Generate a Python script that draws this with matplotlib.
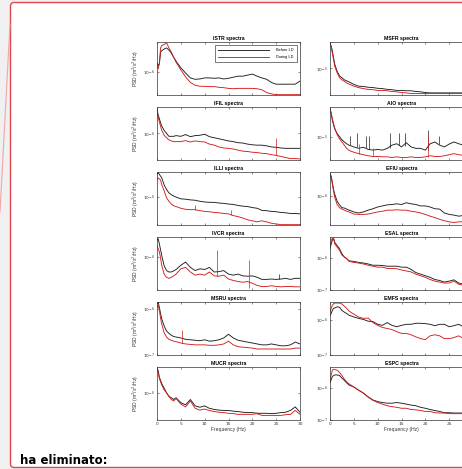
import numpy as np
import matplotlib.pyplot as plt
from matplotlib.patches import FancyBboxPatch
from matplotlib.lines import Line2D
from matplotlib.ticker import NullLocator, FixedLocator

# PSD values are log10(m^2/s^2/Hz) on a shared frequency grid
freq = [0, 0.25, 0.5, 0.75, 1, 1.5, 2, 2.5, 3, 3.5, 4,
        5, 6, 7, 8, 9, 10, 11, 12, 13, 14, 15, 16, 17, 18, 19, 20,
        21, 22, 23, 24, 25, 26, 27, 28, 29, 30]

istr_before = [-5.72, -5.81, -5.75, -5.42, -5.38, -5.33, -5.30, -5.36, -5.45, -5.57, -5.68,
               -5.87, -6.02, -6.16, -6.20, -6.19, -6.16, -6.16, -6.17, -6.16, -6.19, -6.17, -6.14,
               -6.11, -6.11, -6.08, -6.05, -6.11, -6.16, -6.20, -6.29, -6.34, -6.34, -6.34, -6.34, -6.34, -6.25]
istr_during = [-5.83, -5.90, -5.75, -5.30, -5.23, -5.20, -5.15, -5.30, -5.42, -5.57, -5.71,
               -5.93, -6.13, -6.29, -6.37, -6.40, -6.40, -6.41, -6.41, -6.43, -6.44, -6.46, -6.47,
               -6.46, -6.46, -6.46, -6.46, -6.47, -6.50, -6.58, -6.62, -6.64, -6.64, -6.64, -6.64, -6.64, -6.64]

ifil_before = [-5.30, -5.48, -5.58, -5.70, -5.79, -5.91, -6.00, -6.08, -6.08, -6.08, -6.06,
               -6.08, -6.03, -6.09, -6.06, -6.05, -6.02, -6.09, -6.12, -6.15, -6.18, -6.21, -6.23,
               -6.26, -6.27, -6.30, -6.32, -6.33, -6.33, -6.35, -6.38, -6.39, -6.41, -6.42, -6.42, -6.42, -6.42]
ifil_during = [-5.40, -5.55, -5.67, -5.79, -5.91, -6.05, -6.12, -6.18, -6.21, -6.23, -6.23,
               -6.23, -6.20, -6.24, -6.21, -6.23, -6.24, -6.30, -6.33, -6.38, -6.41, -6.42, -6.44,
               -6.47, -6.50, -6.51, -6.53, -6.54, -6.56, -6.57, -6.60, -6.62, -6.65, -6.68, -6.71, -6.71, -6.72]

illi_before = [-5.35, -5.30, -5.35, -5.40, -5.45, -5.65, -5.78, -5.88, -5.93, -5.97, -6.00,
               -6.05, -6.06, -6.08, -6.09, -6.12, -6.14, -6.15, -6.15, -6.17, -6.18, -6.20, -6.21,
               -6.24, -6.26, -6.27, -6.30, -6.32, -6.38, -6.39, -6.41, -6.42, -6.44, -6.45, -6.47, -6.47, -6.48]
illi_during = [-5.50, -5.45, -5.48, -5.51, -5.65, -5.82, -6.02, -6.12, -6.20, -6.25, -6.27,
               -6.32, -6.35, -6.36, -6.36, -6.39, -6.41, -6.42, -6.44, -6.45, -6.47, -6.48, -6.53,
               -6.56, -6.60, -6.65, -6.68, -6.71, -6.68, -6.71, -6.75, -6.77, -6.79, -6.79, -6.79, -6.79, -6.79]

ivcr_before = [-5.52, -5.48, -5.63, -5.79, -5.96, -6.24, -6.38, -6.42, -6.42, -6.39, -6.35,
               -6.23, -6.14, -6.29, -6.38, -6.33, -6.35, -6.29, -6.42, -6.41, -6.38, -6.48, -6.51,
               -6.48, -6.53, -6.54, -6.53, -6.57, -6.63, -6.63, -6.62, -6.63, -6.62, -6.60, -6.63, -6.60, -6.60]
ivcr_during = [-5.67, -5.76, -5.85, -6.03, -6.24, -6.48, -6.57, -6.60, -6.57, -6.53, -6.48,
               -6.33, -6.29, -6.42, -6.51, -6.48, -6.51, -6.42, -6.53, -6.54, -6.51, -6.62, -6.66,
               -6.69, -6.71, -6.69, -6.74, -6.80, -6.83, -6.83, -6.81, -6.83, -6.84, -6.83, -6.83, -6.84, -6.84]

msru_before = [-5.88, -5.85, -5.97, -6.10, -6.22, -6.37, -6.48, -6.53, -6.57, -6.60, -6.61,
               -6.63, -6.66, -6.67, -6.68, -6.69, -6.67, -6.70, -6.69, -6.67, -6.63, -6.55, -6.63,
               -6.68, -6.70, -6.72, -6.74, -6.76, -6.78, -6.78, -6.76, -6.78, -6.80, -6.80, -6.78, -6.72, -6.76]
msru_during = [-5.97, -5.92, -6.03, -6.20, -6.33, -6.52, -6.61, -6.66, -6.68, -6.70, -6.71,
               -6.74, -6.76, -6.77, -6.78, -6.78, -6.78, -6.79, -6.79, -6.78, -6.76, -6.70, -6.78,
               -6.82, -6.83, -6.84, -6.85, -6.87, -6.87, -6.87, -6.87, -6.87, -6.87, -6.87, -6.87, -6.85, -6.85]

mucr_before = [-5.29, -5.38, -5.56, -5.65, -5.74, -5.87, -6.00, -6.10, -6.14, -6.19, -6.14,
               -6.28, -6.34, -6.19, -6.37, -6.41, -6.37, -6.44, -6.47, -6.49, -6.50, -6.50, -6.52,
               -6.53, -6.55, -6.56, -6.56, -6.58, -6.58, -6.58, -6.59, -6.58, -6.56, -6.55, -6.50, -6.40, -6.55]
mucr_during = [-5.33, -5.42, -5.60, -5.69, -5.78, -5.92, -6.00, -6.10, -6.19, -6.23, -6.16,
               -6.32, -6.40, -6.23, -6.44, -6.49, -6.46, -6.50, -6.53, -6.55, -6.56, -6.58, -6.59,
               -6.61, -6.61, -6.61, -6.61, -6.59, -6.64, -6.64, -6.64, -6.64, -6.64, -6.62, -6.61, -6.50, -6.61]

msfr_before = [-4.28, -4.37, -4.50, -4.70, -4.88, -5.08, -5.21, -5.26, -5.32, -5.35, -5.38,
               -5.45, -5.50, -5.51, -5.53, -5.54, -5.56, -5.57, -5.59, -5.60, -5.62, -5.62, -5.63,
               -5.63, -5.65, -5.66, -5.68, -5.69, -5.69, -5.69, -5.69, -5.69, -5.69, -5.69, -5.69, -5.69, -5.69]
msfr_during = [-4.28, -4.40, -4.57, -4.75, -4.94, -5.12, -5.26, -5.32, -5.36, -5.41, -5.44,
               -5.50, -5.54, -5.57, -5.59, -5.60, -5.62, -5.62, -5.63, -5.65, -5.66, -5.68, -5.69,
               -5.71, -5.71, -5.71, -5.71, -5.71, -5.71, -5.71, -5.71, -5.71, -5.71, -5.71, -5.71, -5.71, -5.71]

aio_before = [-4.21, -4.34, -4.54, -4.67, -4.78, -4.91, -5.00, -5.09, -5.15, -5.20, -5.24,
              -5.29, -5.33, -5.30, -5.36, -5.38, -5.36, -5.38, -5.33, -5.24, -5.20, -5.29, -5.17,
              -5.29, -5.33, -5.33, -5.38, -5.20, -5.15, -5.24, -5.29, -5.21, -5.15, -5.20, -5.24, -5.29, -5.29]
aio_during = [-4.21, -4.34, -4.49, -4.63, -4.76, -4.94, -5.06, -5.15, -5.24, -5.33, -5.39,
              -5.44, -5.48, -5.51, -5.54, -5.56, -5.56, -5.57, -5.57, -5.59, -5.57, -5.59, -5.59,
              -5.57, -5.59, -5.59, -5.57, -5.54, -5.56, -5.56, -5.54, -5.51, -5.48, -5.51, -5.53, -5.54, -5.54]

efiu_before = [-5.38, -5.44, -5.62, -5.82, -5.95, -6.15, -6.25, -6.33, -6.34, -6.37, -6.40,
               -6.45, -6.48, -6.45, -6.40, -6.36, -6.31, -6.28, -6.25, -6.24, -6.22, -6.24, -6.19,
               -6.22, -6.24, -6.28, -6.28, -6.31, -6.36, -6.37, -6.48, -6.52, -6.54, -6.57, -6.55, -6.57, -6.57]
efiu_during = [-5.49, -5.44, -5.67, -5.86, -6.04, -6.24, -6.33, -6.37, -6.40, -6.43, -6.45,
               -6.51, -6.52, -6.52, -6.51, -6.48, -6.45, -6.43, -6.40, -6.40, -6.39, -6.40, -6.40,
               -6.43, -6.45, -6.48, -6.52, -6.57, -6.61, -6.66, -6.70, -6.73, -6.75, -6.73, -6.73, -6.73, -6.73]

esal_before = [-5.70, -5.55, -5.43, -5.38, -5.50, -5.60, -5.70, -5.86, -5.96, -6.01, -6.08,
               -6.10, -6.13, -6.15, -6.18, -6.22, -6.22, -6.23, -6.25, -6.25, -6.25, -6.28, -6.28,
               -6.35, -6.45, -6.50, -6.55, -6.60, -6.67, -6.70, -6.75, -6.72, -6.68, -6.78, -6.82, -6.82, -6.83]
esal_during = [-5.60, -5.43, -5.38, -5.36, -5.55, -5.65, -5.75, -5.90, -5.96, -6.01, -6.10,
               -6.13, -6.15, -6.18, -6.22, -6.25, -6.28, -6.28, -6.32, -6.32, -6.33, -6.37, -6.40,
               -6.43, -6.50, -6.55, -6.60, -6.67, -6.72, -6.75, -6.78, -6.78, -6.72, -6.82, -6.85, -6.87, -6.87]

emfs_before = [-5.86, -5.81, -5.72, -5.66, -5.65, -5.62, -5.63, -5.72, -5.77, -5.81, -5.86,
               -5.91, -5.95, -5.98, -6.03, -6.04, -6.12, -6.15, -6.07, -6.15, -6.19, -6.15, -6.12,
               -6.12, -6.09, -6.09, -6.10, -6.12, -6.16, -6.12, -6.12, -6.19, -6.16, -6.12, -6.19, -6.19, -6.24]
emfs_during = [-5.77, -5.66, -5.57, -5.53, -5.51, -5.51, -5.51, -5.54, -5.60, -5.66, -5.74,
               -5.83, -5.91, -5.95, -5.94, -6.07, -6.15, -6.21, -6.24, -6.27, -6.33, -6.38, -6.38,
               -6.42, -6.48, -6.53, -6.56, -6.45, -6.42, -6.45, -6.53, -6.53, -6.50, -6.45, -6.53, -6.57, -6.62]

espc_before = [-5.83, -5.73, -5.63, -5.60, -5.58, -5.58, -5.60, -5.68, -5.75, -5.83, -5.90,
               -5.96, -6.06, -6.15, -6.27, -6.37, -6.42, -6.45, -6.47, -6.47, -6.45, -6.47, -6.50,
               -6.53, -6.55, -6.60, -6.63, -6.67, -6.70, -6.73, -6.77, -6.77, -6.78, -6.78, -6.78, -6.78, -6.78]
espc_during = [-5.73, -5.58, -5.43, -5.40, -5.41, -5.43, -5.50, -5.60, -5.71, -5.80, -5.86,
               -5.96, -6.06, -6.15, -6.28, -6.38, -6.45, -6.50, -6.55, -6.58, -6.60, -6.63, -6.63,
               -6.67, -6.68, -6.70, -6.73, -6.73, -6.77, -6.78, -6.78, -6.80, -6.80, -6.80, -6.80, -6.80, -6.80]

# narrow peaks: (station, series, freq, low, high)
spikes = [
    ('IFIL', 'during', 25.0, -6.62, -6.14),
    ('ILLI', 'during', 8.0, -6.36, -6.22),
    ('ILLI', 'during', 15.5, -6.50, -6.37),
    ('IVCR', 'during', 12.6, -6.53, -5.81),
    ('IVCR', 'during', 19.2, -6.86, -6.09),
    ('IVCR', 'before', 25.5, -6.63, -6.48),
    ('MSRU', 'during', 5.2, -6.74, -6.45),
    ('MUCR', 'during', 21.0, -6.61, -6.55),
    ('AIO', 'before', 4.2, -5.24, -4.99),
    ('AIO', 'before', 5.7, -5.29, -4.91),
    ('AIO', 'before', 7.5, -5.33, -4.99),
    ('AIO', 'before', 8.2, -5.36, -4.99),
    ('AIO', 'before', 12.5, -5.33, -4.91),
    ('AIO', 'before', 14.5, -5.24, -4.91),
    ('AIO', 'before', 15.7, -5.25, -4.91),
    ('AIO', 'before', 20.5, -5.38, -4.81),
    ('AIO', 'before', 22.9, -5.20, -4.99),
    ('AIO', 'during', 6.0, -5.48, -5.21),
    ('AIO', 'during', 9.0, -5.56, -5.33),
    ('AIO', 'during', 20.5, -5.57, -4.99),
]

left_col = ['ISTR', 'IFIL', 'ILLI', 'IVCR', 'MSRU', 'MUCR']
right_col = ['MSFR', 'AIO', 'EFIU', 'ESAL', 'EMFS', 'ESPC']
xticks = [0, 5, 10, 15, 20, 25, 30]

series = {
    'ISTR': (istr_before, istr_during), 'IFIL': (ifil_before, ifil_during),
    'ILLI': (illi_before, illi_during), 'IVCR': (ivcr_before, ivcr_during),
    'MSRU': (msru_before, msru_during), 'MUCR': (mucr_before, mucr_during),
    'MSFR': (msfr_before, msfr_during), 'AIO': (aio_before, aio_during),
    'EFIU': (efiu_before, efiu_during), 'ESAL': (esal_before, esal_during),
    'EMFS': (emfs_before, emfs_during), 'ESPC': (espc_before, espc_during),
}

# y range of each panel in log10 units
ylims = {
    'ISTR': (-6.65, -5.13), 'IFIL': (-6.75, -5.25), 'ILLI': (-6.8, -5.28),
    'IVCR': (-6.93, -5.43), 'MSRU': (-7.0, -5.85), 'MUCR': (-6.77, -5.27),
    'MSFR': (-5.75, -4.25), 'AIO': (-5.66, -4.16), 'EFIU': (-6.82, -5.32),
    'ESAL': (-7.0, -5.33), 'EMFS': (-7.0, -5.48), 'ESPC': (-7.0, -5.33),
}

W, H = 462, 469
black = '#1e1e1e'
red = '#d41c1c'
font = 'Liberation Sans'

fig = plt.figure(figsize=(W / 100, H / 100), dpi=100)
fig.patch.set_facecolor('#f0f0f0')

# comment balloon: white box with red rounded border (right side runs off the page), plus connector line
box = FancyBboxPatch((10.5 / W, 1 - 467.5 / H), (490 - 10.5) / W, (467.5 - 2.5) / H,
                     boxstyle='round,pad=0,rounding_size=0.008', transform=fig.transFigure,
                     facecolor='white', edgecolor='#e0464b', lw=1.0, zorder=-2)
fig.patches.append(box)
fig.lines.append(Line2D([10 / W, 0 / W], [1 - 24 / H, 1 - 212 / H], transform=fig.transFigure,
                        color='#f0a5a8', lw=0.8, zorder=-1))


def make_axes(left, top, w=143, h=53):
    return fig.add_axes([left / W, 1 - (top + h) / H, w / W, h / H])


tops = [42, 107, 172, 237, 302, 367]
for col, (names, left) in enumerate([(left_col, 157), (right_col, 330)]):
    for row, name in enumerate(names):
        ax = make_axes(left, tops[row])
        before, during = series[name]
        ax.plot(freq, 10 ** np.array(before), color=black, lw=0.65, label='Before LD')
        ax.plot(freq, 10 ** np.array(during), color=red, lw=0.65, label='During LD')
        for st, which, f, lo, hi in spikes:
            if st == name:
                ax.vlines(f, 10 ** lo, 10 ** hi, color=black if which == 'before' else red, lw=0.5)

        ax.set_yscale('log')
        lo, hi = ylims[name]
        ax.set_ylim(10 ** lo, 10 ** hi)
        ax.set_xlim(0, 30)
        ax.xaxis.set_major_locator(FixedLocator(xticks))
        ax.yaxis.set_minor_locator(NullLocator())
        ax.tick_params(direction='in', top=True, right=True, length=1.5, width=0.4,
                       labelsize=3.2, pad=1.2, colors='#333333')
        for sp in ax.spines.values():
            sp.set_linewidth(0.5)
            sp.set_color('#333333')
        ax.set_title(f'{name} spectra', fontsize=3.7, fontweight='bold', pad=1.5, family=font)

        if row == len(names) - 1:
            ax.set_xlabel('Frequency (Hz)', fontsize=3.6, labelpad=1, family=font, color='#333333')
            # the right panel runs past the page edge, its last label is not shown
            labels = [str(t) for t in xticks]
            if col == 1:
                labels[-1] = ''
            ax.set_xticklabels(labels)
        else:
            ax.tick_params(labelbottom=False)
        if col == 0:
            ax.set_ylabel('PSD (m$^2$/s$^2$/Hz)', fontsize=3.6, labelpad=1.5, family=font, color='#333333')
        if name == 'ISTR':
            leg = ax.legend(loc='upper right', handlelength=13, handletextpad=2,
                            borderpad=0.7, labelspacing=0.8, fancybox=False, framealpha=1,
                            borderaxespad=0.9, prop={'family': font, 'size': 2.8})
            leg.get_frame().set_edgecolor('#444444')
            leg.get_frame().set_linewidth(0.5)

fig.text(20 / W, 1 - 464 / H, 'ha eliminato:', fontsize=8.5, fontweight='bold',
         family='DejaVu Sans', va='baseline', color='black')

fig.savefig('out.png', dpi=100, facecolor=fig.get_facecolor())
